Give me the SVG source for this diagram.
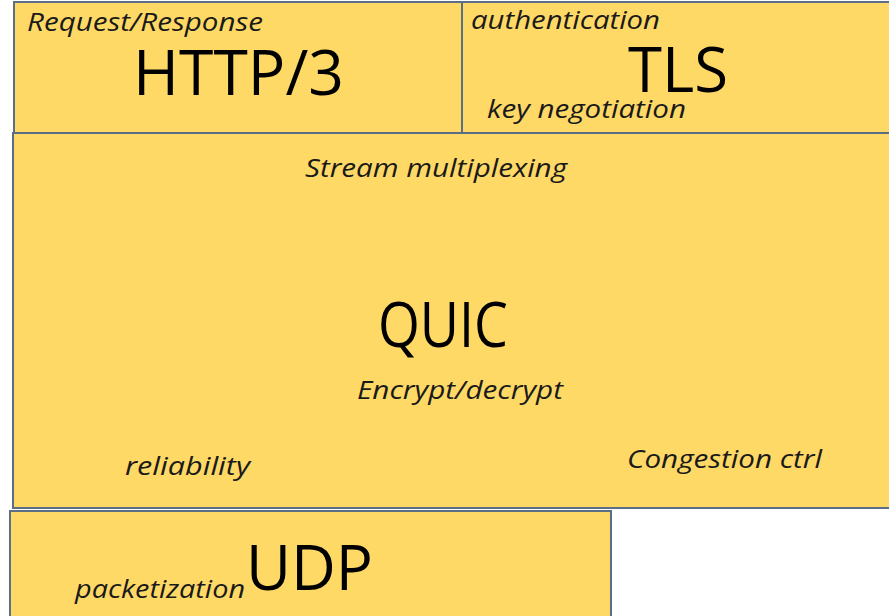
<svg xmlns="http://www.w3.org/2000/svg" width="889" height="616" viewBox="0 0 889 616">
<style>
.box{fill:#FFD966;stroke:#5B6E88;stroke-width:2}
.big{font-family:"Open Sans","Liberation Sans",sans-serif;font-size:62px;fill:#000}
.lab{font-family:"Open Sans","Liberation Sans",sans-serif;font-size:25px;font-style:italic;fill:#1a1a1a}
</style>
<rect width="889" height="616" fill="#ffffff"/>
<g id="quic">
<rect class="box" x="13" y="133" width="880" height="375"/>
<text class="lab" x="305" y="177" textLength="262" lengthAdjust="spacingAndGlyphs">Stream multiplexing</text>
<text class="big" x="378" y="347" textLength="130" lengthAdjust="spacingAndGlyphs">QUIC</text>
<text class="lab" x="357" y="399" textLength="206" lengthAdjust="spacingAndGlyphs">Encrypt/decrypt</text>
<text class="lab" x="125" y="475" textLength="125" lengthAdjust="spacingAndGlyphs">reliability</text>
<text class="lab" x="627" y="468" textLength="195" lengthAdjust="spacingAndGlyphs">Congestion ctrl</text>
</g>
<g id="http3">
<rect class="box" x="14" y="2" width="448" height="131"/>
<text class="lab" x="27" y="31" font-size="23" textLength="236" lengthAdjust="spacingAndGlyphs">Request/Response</text>
<text class="big" x="133" y="95" font-size="58" textLength="211" lengthAdjust="spacingAndGlyphs">HTTP/3</text>
</g>
<g id="tls">
<rect class="box" x="462" y="2" width="431" height="131"/>
<text class="lab" x="471" y="29" textLength="189" lengthAdjust="spacingAndGlyphs">authentication</text>
<text class="big" x="628" y="92" textLength="100" lengthAdjust="spacingAndGlyphs">TLS</text>
<text class="lab" x="487" y="118" textLength="199" lengthAdjust="spacingAndGlyphs">key negotiation</text>
</g>
<g id="udp">
<rect class="box" x="10" y="511" width="601" height="110"/>
<text class="lab" x="75" y="598" textLength="170" lengthAdjust="spacingAndGlyphs">packetization</text>
<text class="big" x="246" y="590" textLength="127" lengthAdjust="spacingAndGlyphs">UDP</text>
</g>
<g id="connectors"></g>
</svg>
